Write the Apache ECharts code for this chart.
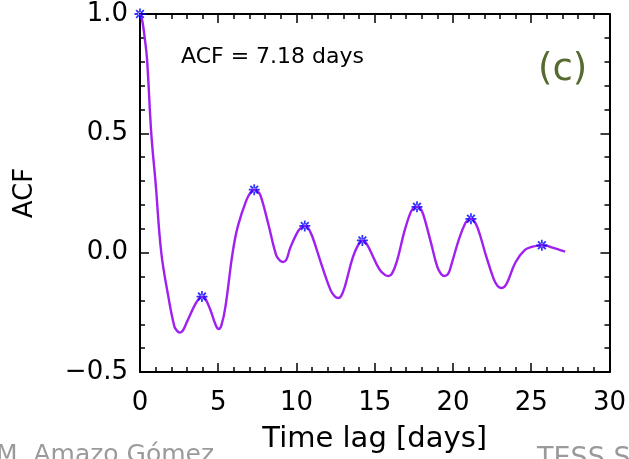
<!DOCTYPE html>
<html>
<head>
<meta charset="utf-8">
<script src="https://cdn.jsdelivr.net/npm/echarts@6/dist/echarts.min.js"></script>
<style>html,body{margin:0;padding:0;background:#fff;}#c{width:629px;height:459px;}</style>
</head>
<body>
<div id="c"></div>
<script>
// Time lag (days) and ACF values
var lagDays = [0, 0.15, 0.3, 0.45, 0.72, 1.0, 1.36, 1.8, 2.2, 2.4, 2.55, 2.75, 3.0, 3.5, 3.8, 3.96, 4.15, 4.5, 4.85, 5.04, 5.2, 5.45, 5.92, 6.25, 6.8, 7.1, 7.3, 7.5, 7.7, 8.2, 8.7, 8.95, 9.15, 9.35, 9.6, 10.1, 10.35, 10.53, 10.7, 11.0, 11.6, 12.2, 12.45, 12.66, 12.85, 13.1, 13.6, 14.0, 14.21, 14.4, 14.7, 15.3, 15.65, 15.89, 16.1, 16.4, 16.9, 17.3, 17.5, 17.7, 17.9, 18.1, 18.6, 19.0, 19.25, 19.47, 19.7, 19.9, 20.4, 20.8, 21.0, 21.15, 21.3, 21.6, 22.1, 22.6, 22.85, 23.08, 23.3, 23.5, 24.0, 24.6, 25.1, 25.4, 25.68, 26.0, 26.3, 26.8, 27.17];
var acfValues = [1.0, 0.97, 0.9, 0.81, 0.5, 0.29, 0.0, -0.18, -0.31, -0.33, -0.335, -0.325, -0.29, -0.22, -0.19, -0.184, -0.19, -0.24, -0.305, -0.32, -0.305, -0.23, 0.0, 0.11, 0.22, 0.255, 0.264, 0.258, 0.24, 0.12, -0.01, -0.033, -0.039, -0.03, 0.02, 0.09, 0.108, 0.112, 0.108, 0.07, -0.05, -0.16, -0.183, -0.19, -0.182, -0.14, -0.02, 0.04, 0.051, 0.045, 0.01, -0.07, -0.093, -0.098, -0.088, -0.04, 0.09, 0.17, 0.187, 0.192, 0.187, 0.16, 0.04, -0.06, -0.09, -0.098, -0.088, -0.05, 0.06, 0.125, 0.138, 0.142, 0.138, 0.10, -0.01, -0.11, -0.14, -0.148, -0.142, -0.12, -0.04, 0.012, 0.025, 0.029, 0.031, 0.029, 0.022, 0.012, 0.004];
// ACF peaks marked with asterisks
var peakLags = [0, 3.96, 7.3, 10.53, 14.21, 17.7, 21.15, 25.68];
var peakValues = [1.0, -0.184, 0.264, 0.112, 0.051, 0.192, 0.142, 0.031];
var xTicks = [0, 5, 10, 15, 20, 25, 30];
var yTicks = [-0.5, 0.0, 0.5, 1.0];
var annotation = 'ACF = 7.18 days';
var panelLabel = '(c)';

var lineData = lagDays.map(function (x, i) { return [x, acfValues[i]]; });
var peakData = peakLags.map(function (x, i) { return [x, peakValues[i]]; });

var star = 'path://M-5,-0.8L5,-0.8L5,0.8L-5,0.8Z M-0.8,-5L0.8,-5L0.8,5L-0.8,5Z M-4.1,-2.9L2.9,4.1L4.1,2.9L-2.9,-4.1Z M-2.9,4.1L4.1,-2.9L2.9,-4.1L-4.1,2.9Z';

var font = 'DejaVu Sans';
var axisLine = { show: true, onZero: false, lineStyle: { color: '#000', width: 2 } };
var tick = { show: true, inside: true, length: 9, lineStyle: { color: '#000', width: 1.5 } };
var minor = { show: true, splitNumber: 5, length: 5, lineStyle: { color: '#000', width: 1.5 } };
function fmtY(v) { var s = Math.abs(v).toFixed(1); return v < 0 ? '\u2212' + s : s; }

var chart = echarts.init(document.getElementById('c'), null, { renderer: 'canvas' });
chart.setOption({
  animation: false,
  backgroundColor: '#fff',
  grid: { left: 140, right: 19, top: 14, bottom: 86 },
  xAxis: [{
    type: 'value', min: xTicks[0], max: xTicks[xTicks.length - 1], interval: 5,
    axisLine: axisLine, axisTick: tick, minorTick: minor,
    axisLabel: { color: '#000', fontFamily: font, fontSize: 26, margin: 18 },
    splitLine: { show: false },
    name: 'Time lag [days]', nameLocation: 'middle', nameGap: 53,
    nameTextStyle: { color: '#000', fontFamily: font, fontSize: 29 }
  }, {
    type: 'value', position: 'top', min: xTicks[0], max: xTicks[xTicks.length - 1], interval: 5,
    axisLine: axisLine, axisTick: tick, minorTick: minor,
    axisLabel: { show: false }, splitLine: { show: false }
  }],
  yAxis: [{
    type: 'value', min: yTicks[0], max: yTicks[yTicks.length - 1], interval: 0.5,
    axisLine: axisLine, axisTick: tick, minorTick: minor,
    axisLabel: { color: '#000', fontFamily: font, fontSize: 26, margin: 12, formatter: fmtY },
    splitLine: { show: false },
    name: 'ACF', nameLocation: 'middle', nameGap: 102, nameRotate: 90,
    nameTextStyle: { color: '#000', fontFamily: font, fontSize: 26 }
  }, {
    type: 'value', position: 'right', min: yTicks[0], max: yTicks[yTicks.length - 1], interval: 0.5,
    axisLine: axisLine, axisTick: tick, minorTick: minor,
    axisLabel: { show: false }, splitLine: { show: false }
  }],
  series: [{
    type: 'line', data: lineData, smooth: 0.4, showSymbol: false,
    lineStyle: { color: '#a020f0', width: 2.4 }, z: 2
  }, {
    type: 'scatter', data: peakData, symbol: star, symbolSize: 11,
    itemStyle: { color: '#0000ff' }, z: 3
  }],
  graphic: [{
    type: 'text', left: 181, top: 46,
    style: { text: annotation, font: '22px "DejaVu Sans"', fill: '#000' }
  }, {
    type: 'text', left: 538, top: 52,
    style: { text: panelLabel, font: '37px "DejaVu Sans"', fill: '#556b2f' }
  }, {
    type: 'text', left: -4, top: 443,
    style: { text: 'M. Amazo Gómez', font: '25px "DejaVu Sans"', fill: '#9a9a9a' }
  }, {
    type: 'text', left: 537, top: 445,
    style: { text: 'TESS S', font: '27px "DejaVu Sans"', fill: '#9a9a9a' }
  }]
});
</script>
</body>
</html>
